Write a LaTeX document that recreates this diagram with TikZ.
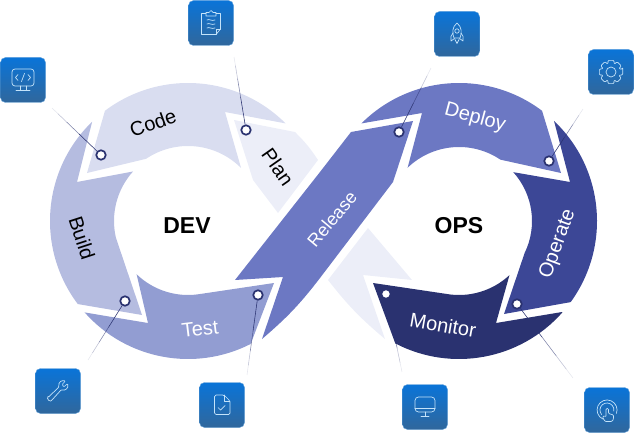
\documentclass[tikz,border=0pt]{standalone}
\usepackage{fontspec}
\setmainfont{Liberation Sans}
\usetikzlibrary{calc}

\definecolor{colcode}{HTML}{D9DDF0}
\definecolor{colplan}{HTML}{ECEEF8}
\definecolor{colbuild}{HTML}{B5BCE0}
\definecolor{coltest}{HTML}{929DD2}
\definecolor{colrelease}{HTML}{6C78C3}
\definecolor{coloperate}{HTML}{3C4796}
\definecolor{colmonitor}{HTML}{2A3270}
\definecolor{colicon}{HTML}{C4E3FA}
\definecolor{colcajaa}{HTML}{0A74D8}
\definecolor{colcajab}{HTML}{30679C}
\definecolor{colborde}{HTML}{5F9FD8}

\tikzset{
  etapa/.style={font=\fontsize{20}{22}\selectfont, inner sep=0pt},
  centro/.style={font=\fontsize{23}{25}\selectfont\bfseries, inner sep=0pt},
  punto/.style={circle, draw=colmonitor, fill=white, line width=1.7pt, minimum size=9.5pt, inner sep=0pt},
  caja/.style={rectangle, rounded corners=5pt, minimum size=45pt, inner sep=0pt,
    draw=colborde, line width=.4pt, top color=colcajaa, bottom color=colcajab},
  guia/.style={line width=.55pt, colmonitor},
  trazo/.style={draw=colicon, line width=.7pt, line join=round, line cap=round},
}

% Une un punto con el extremo libre, cada vez mas claro.
\newcommand{\guia}[2]{
  \draw[guia] (#1) -- ($(#1)!.45!(#2)$);
  \draw[guia, opacity=.6] ($(#1)!.45!(#2)$) -- ($(#1)!.7!(#2)$);
  \draw[guia, opacity=.3] ($(#1)!.7!(#2)$) -- ($(#1)!.88!(#2)$);
  \draw[guia, opacity=.12] ($(#1)!.88!(#2)$) -- (#2);
}

\begin{document}
\begin{tikzpicture}[x=1pt, y=-1pt]
    \useasboundingbox (0,0) rectangle (634,433);

    % Define los centros de los dos lazos.
    \coordinate (cl) at (188,221);
    \coordinate (cr) at (459,221);

    % Dibuja las flechas del lazo izquierdo.
    \fill[colbuild] (77,182) -- ($(cl)+(134:138pt)$) arc[start angle=134, end angle=217, radius=138pt]
        -- (142,315) -- ($(cl)+(193:74pt)$) arc[start angle=193, end angle=138, radius=74pt] -- cycle;
    \fill[colcode] (87,173) -- ($(cl)+(127:138pt)$) arc[start angle=127, end angle=45, radius=138pt]
        -- (225,112) -- ($(cl)+(45:75pt)$) arc[start angle=45, end angle=124, radius=75pt] -- cycle;
    \fill[colplan] (234,120) -- (295,132) to[bend left=6] (318,160) -- (278,213) -- (253,180) -- cycle;
    \fill[coltest] (148,323) -- ($(cl)+(226:74pt)$) arc[start angle=226, end angle=279, radius=74pt]
        -- (274,283) -- ($(cl)+(297:138pt)$) arc[start angle=297, end angle=221.5, radius=138pt] -- cycle;

    % Dibuja la flecha central y la cola clara.
    \fill[colrelease] (351,132) -- (413,121) -- (393,182) -- (320,278) to[bend left=6] (262,339)
        -- (283,277) -- (235,280) -- (320,172) -- cycle;
    \fill[colplan] (368,228) -- (412,280) -- (363,275) -- (385,339) to[bend left=6] (328,280) -- cycle;

    % Dibuja las flechas del lazo derecho.
    \fill[colrelease] (561,173) -- ($(cr)+(56:74pt)$) arc[start angle=56, end angle=134, radius=74pt]
        -- (422,113) -- ($(cr)+(135:138pt)$) arc[start angle=135, end angle=53, radius=138pt] -- cycle;
    \fill[coloperate] (570,182) -- ($(cr)+(46.5:138pt)$) arc[start angle=46.5, end angle=-36, radius=138pt]
        -- (504,314) -- ($(cr)+(-26:73pt)$) arc[start angle=-26, end angle=42, radius=73pt] -- cycle;
    \fill[colmonitor] (373,283) -- ($(cr)+(-100:74pt)$) arc[start angle=-100, end angle=-47, radius=74pt]
        -- (496,323) -- (562,312) -- ($(cr)+(-41.5:138pt)$) arc[start angle=-41.5, end angle=-117.5, radius=138pt] -- cycle;

    % Etiqueta cada etapa y cada lazo.
    \node[etapa, rotate=20] (code) at (153,123) {Code};
    \node[etapa, rotate=-55] (plan) at (278,167) {Plan};
    \node[etapa, rotate=-72] (build) at (82,238) {Build};
    \node[etapa, rotate=7, white] (test) at (200,329) {Test};
    \node[etapa, rotate=50, white, font=\fontsize{18}{20}\selectfont] (release) at (332,219) {Release};
    \node[etapa, rotate=-15, white] (deploy) at (475,118) {Deploy};
    \node[etapa, rotate=70, white] (operate) at (558,244) {Operate};
    \node[etapa, rotate=-10, white] (monitor) at (443,325) {Monitor};
    \node[centro] (dev) at (187,226) {DEV};
    \node[centro] (ops) at (459,226) {OPS};

    % Dibuja los puntos de anclaje.
    \node[punto] (pcode) at (101,155) {};
    \node[punto] (pplan) at (246,130) {};
    \node[punto] (pdeploy) at (399,132) {};
    \node[punto] (pgear) at (549,161) {};
    \node[punto] (pbuild) at (125,301) {};
    \node[punto] (ptest) at (258,295) {};
    \node[punto] (pmonitor) at (386,294) {};
    \node[punto] (ptouch) at (517,304) {};

    % Define los extremos libres y traza las guias.
    \coordinate (ecode) at (52,108);
    \coordinate (eplan) at (234,57);
    \coordinate (edeploy) at (431,68);
    \coordinate (egear) at (583,109);
    \coordinate (ebuild) at (88,360);
    \coordinate (etest) at (247,375);
    \coordinate (emonitor) at (402,372);
    \coordinate (etouch) at (573,378);
    \guia{pcode}{ecode}
    \guia{pplan}{eplan}
    \guia{pdeploy}{edeploy}
    \guia{pgear}{egear}
    \guia{pbuild}{ebuild}
    \guia{ptest}{etest}
    \guia{pmonitor}{emonitor}
    \guia{ptouch}{etouch}

    % Coloca las cajas de los iconos.
    \node[caja] (icode) at (23,80) {};
    \node[caja] (iplan) at (211,23) {};
    \node[caja] (ideploy) at (457,34) {};
    \node[caja] (igear) at (611,72) {};
    \node[caja] (ibuild) at (58,391) {};
    \node[caja] (itest) at (222,405) {};
    \node[caja] (imonitor) at (425,407) {};
    \node[caja] (itouch) at (607,410) {};

    % Icono de pantalla con codigo.
    \begin{scope}[shift={(icode)}, trazo]
        \draw[rounded corners=3pt] (-11,-11) rectangle (11,6);
        \draw (-3,6) -- (-3,10) (3,6) -- (3,10) (-7,10) -- (7,10);
        \draw (-5,-5.5) -- (-7.5,-2.5) -- (-5,.5) (5,-5.5) -- (7.5,-2.5) -- (5,.5) (1.5,-6.5) -- (-1.5,1.5);
    \end{scope}

    % Icono de portapapeles.
    \begin{scope}[shift={(iplan)}, trazo]
        \draw (-5,-9.5) -- (-9.5,-9.5) -- (-9.5,11.5) -- (5,11.5) -- (9.5,6) -- (9.5,-9.5) -- (5,-9.5);
        \draw (-5,-7) -- (-5,-10.5) -- (-2,-10.5) -- (0,-12.5) -- (2,-10.5) -- (5,-10.5) -- (5,-7) -- cycle;
        \draw (5,11.5) -- (5,6) -- (9.5,6);
        \foreach \y in {-3,1,5}
            \draw (-4,\y) .. controls (-2,\y-1.5) and (1,\y+1.5) .. (4,\y);
    \end{scope}

    % Icono de cohete.
    \begin{scope}[shift={(ideploy)}, trazo]
        \draw (0,-11) .. controls (5,-7) and (5,-1) .. (3,4) -- (-3,4) .. controls (-5,-1) and (-5,-7) .. cycle;
        \draw (0,-3) circle[radius=2.2pt];
        \draw (4,-1) .. controls (6.5,1) and (6.5,4) .. (6,7) -- (2.5,4.5);
        \draw (-4,-1) .. controls (-6.5,1) and (-6.5,4) .. (-6,7) -- (-2.5,4.5);
        \draw (-2,5.5) -- (0,9.5) -- (2,5.5);
    \end{scope}

    % Icono de engranaje.
    \begin{scope}[shift={(igear)}, trazo]
        \draw[rounded corners=1pt] (-14:12) \foreach \a in {0,45,...,315}{
            -- (\a-14:12) -- (\a+14:12) -- (\a+23:8.5)} -- cycle;
        \draw (0,0) circle[radius=5pt];
    \end{scope}

    % Icono de llave.
    \begin{scope}[shift={(ibuild)}, trazo]
        \draw[rounded corners=1pt] (-10,6.5) -- (1,-4) .. controls (0,-9) and (4,-11) .. (7.5,-10)
            -- (4,-6.5) -- (6,-4) -- (9.5,-7.5) .. controls (11,-3) and (7,0) .. (3.5,-1.5)
            -- (-6.5,9.5) .. controls (-8,10.5) and (-11,8.5) .. cycle;
    \end{scope}

    % Icono de documento verificado.
    \begin{scope}[shift={(itest)}, trazo]
        \draw[rounded corners=1.5pt] (-7.5,-10) -- (2,-10) -- (8,-4) -- (8,9.5) -- (-7.5,9.5) -- cycle;
        \draw (2,-10) -- (2,-4) -- (8,-4);
        \draw (-4,2.5) -- (-1.5,5) -- (3,.5);
    \end{scope}

    % Icono de monitor.
    \begin{scope}[shift={(imonitor)}, trazo]
        \draw[rounded corners=3.5pt] (-10,-10) rectangle (10,5);
        \draw (-10,1) -- (10,1) (0,5) -- (0,9.5) (-4,9.5) -- (4,9.5);
    \end{scope}

    % Icono de pulsacion.
    \begin{scope}[shift={(itouch)}, trazo]
        \draw (-4,9.1) arc[start angle=-114, end angle=-380, radius=10pt];
        \draw (-5.4,4.5) arc[start angle=-140, end angle=-370, radius=7pt];
        \draw[rounded corners=1pt] (-2,11.5) -- (-4.5,7) -- (-3,5.5) -- (-1,7) -- (-1,-1.5)
            -- (1.5,-1.5) -- (1.5,3.5) -- (6.5,5) -- (6.5,9) -- (5,11.5) -- cycle;
    \end{scope}
\end{tikzpicture}
\end{document}
